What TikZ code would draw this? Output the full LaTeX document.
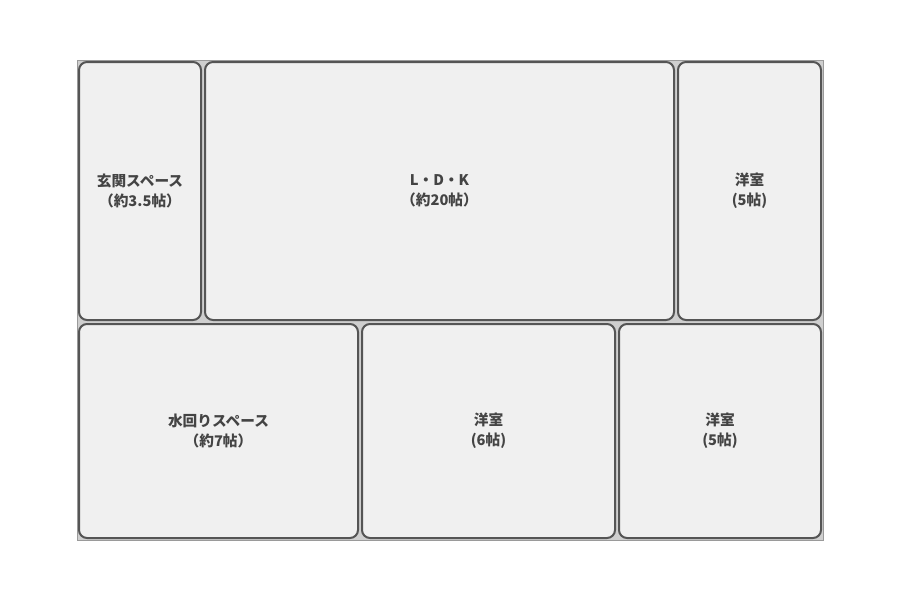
\documentclass[tikz,border=0pt]{standalone}
\usepackage{fontspec}
\setmainfont{Noto Sans CJK JP}
\usepackage{tikz}
\definecolor{roomline}{HTML}{555555}
\definecolor{roomfill}{HTML}{F0F0F0}
\definecolor{roomtext}{HTML}{444444}
\definecolor{planfill}{HTML}{CFCFCF}
\definecolor{planline}{HTML}{9A9A9A}
\tikzset{room/.style={draw=roomline,fill=roomfill,line width=1.5pt,rounded corners=6pt,
  inner sep=0pt,align=center,text=roomtext,font=\fontsize{11}{15}\selectfont\bfseries}}

\begin{document}
\begin{tikzpicture}[x=0.75pt,y=-0.75pt]
\useasboundingbox (0,0) rectangle (900,600);
\draw[planline,fill=planfill,line width=0.75pt] (77,60) rectangle (823,540);
% upper row
\node[room,minimum width=91.5pt,minimum height=193.5pt] (genkan) at (140,191)
  {玄関スペース\\（約3.5帖）};
\node[room,minimum width=351.75pt,minimum height=193.5pt] (ldk) at (439.5,191)
  {L・D・K\\（約20帖）};
\node[room,minimum width=107.25pt,minimum height=193.5pt] (yoA) at (749.5,191)
  {洋室\\(5帖)};
% lower row
\node[room,minimum width=209.25pt,minimum height=160.5pt] (mizu) at (218.5,431)
  {水回りスペース\\（約7帖）};
\node[room,minimum width=189.75pt,minimum height=160.5pt] (yoB) at (488.5,431)
  {洋室\\(6帖)};
\node[room,minimum width=151.5pt,minimum height=160.5pt] (yoC) at (720,431)
  {洋室\\(5帖)};
\end{tikzpicture}
\end{document}
